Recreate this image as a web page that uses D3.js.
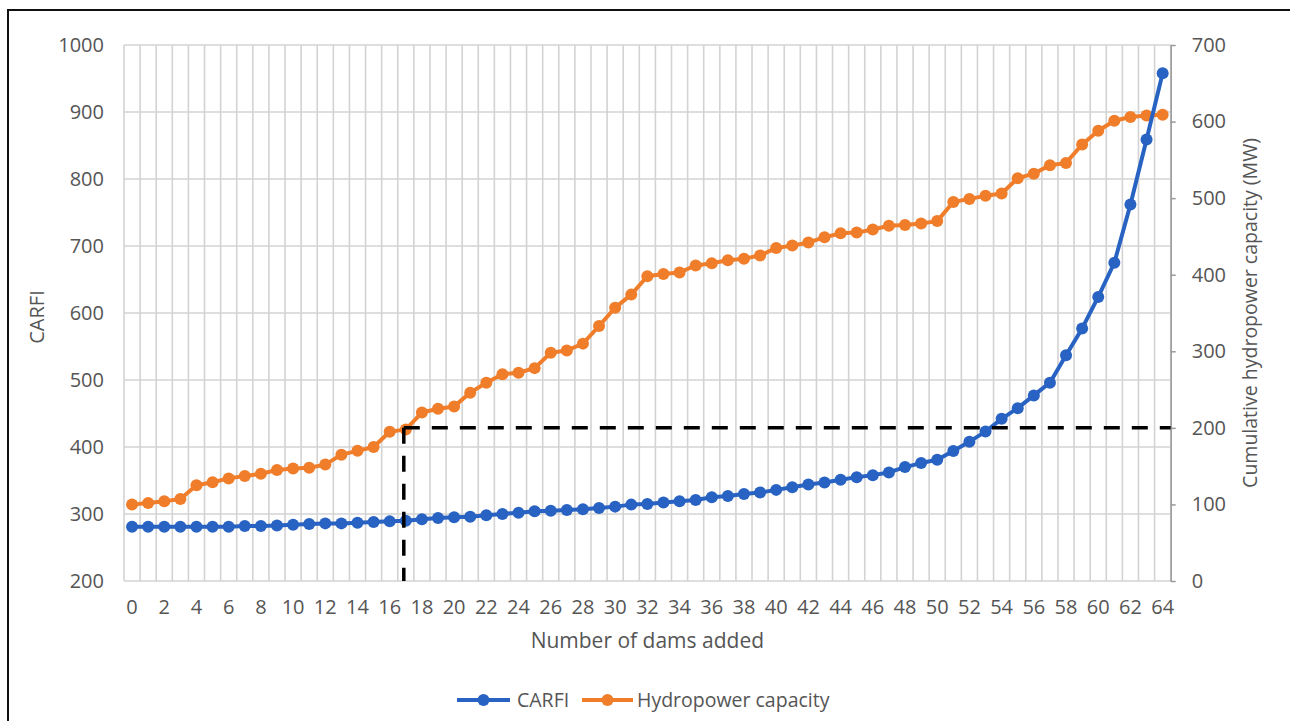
<!DOCTYPE html>
<html><head><meta charset="utf-8">
<script src="https://cdn.jsdelivr.net/npm/d3@7"></script>
<style>
body{margin:0;background:#fff}
svg{display:block;font-family:"Open Sans",sans-serif}
</style>
</head><body>
<svg id="chart" width="1290" height="721"></svg>
<script>
// ---- data ----
const dams = [0,1,2,3,4,5,6,7,8,9,10,11,12,13,14,15,16,17,18,19,20,21,22,23,24,25,26,27,28,29,30,31,32,
  33,34,35,36,37,38,39,40,41,42,43,44,45,46,47,48,49,50,51,52,53,54,55,56,57,58,59,60,61,62,63,64];
const carfi = [281,281,281,281,281,281,281,282,282,283,284,285,286,286,287,288,289,290,292,294,295,296,298,300,
  302,304,305,306,307,309,311,314,315,317,319,321,325,327,330,332,336,340,344,347,351,355,358,362,370,376,381,
  394,408,423,442,458,477,496,537,577,624,675,762,859,958];
const hydropower = [100,102,104,107,125,129,134,137,140,145,147,148,152,165,170,175,195,198,220,225,228,246,259,270,
  272,278,298,301,310,333,357,374,398,401,403,412,415,419,421,425,435,438,442,449,454,455,459,464,465,467,470,
  495,499,503,506,526,532,543,546,570,588,601,606,608,609];
const leftTicks = [200,300,400,500,600,700,800,900,1000];
const rightTicks = [0,100,200,300,400,500,600,700];
const xTickLabels = [0,2,4,6,8,10,12,14,16,18,20,22,24,26,28,30,32,34,36,38,40,42,44,46,48,50,52,54,56,58,60,62,64];
const thresholdDams = 17;
const thresholdMW = 200;
const seriesNames = ["CARFI", "Hydropower capacity"];

// ---- layout ----
const L = 124, R = 1170.7, T = 45, B = 581;
const blue = "#2862c2", orange = "#f07d2a", textCol = "#555555", gridCol = "#d3d3d3";
const tickFont = 20;

const svg = d3.select("#chart");
svg.append("rect").attr("width",1290).attr("height",721).attr("fill","#fff");

// frame
svg.append("path").attr("d","M8,730 L8,10 L1300,10").attr("fill","none").attr("stroke","#111").attr("stroke-width",2);

const x = d3.scaleBand().domain(dams).range([L, R]).padding(0);
const bw = x.bandwidth();
const cx = d => x(d) + bw/2;
const yL = d3.scaleLinear().domain([200,1000]).range([B,T]);
const yR = d3.scaleLinear().domain([0,700]).range([B,T]);

// vertical gridlines (category boundaries)
const bounds = dams.map(d => x(d)).concat([x(dams[dams.length-1]) + bw]);
svg.append("g").selectAll("line").data(bounds).join("line")
  .attr("x1",d=>d).attr("x2",d=>d).attr("y1",T).attr("y2",B)
  .attr("stroke",gridCol).attr("stroke-width",1.6);
// horizontal gridlines
svg.append("g").selectAll("line").data(leftTicks).join("line")
  .attr("x1",L).attr("x2",R).attr("y1",d=>yL(d)).attr("y2",d=>yL(d))
  .attr("stroke",gridCol).attr("stroke-width",1.6);

// left axis
const gl = svg.append("g").attr("transform",`translate(${L},0)`)
  .call(d3.axisLeft(yL).tickValues(leftTicks).tickFormat(d3.format("d")).tickSize(0).tickPadding(20));
gl.select(".domain").remove();
gl.selectAll("text").attr("font-size",tickFont).attr("fill",textCol).attr("font-family","Open Sans");

// right axis
const gr = svg.append("g").attr("transform",`translate(${R},0)`)
  .call(d3.axisRight(yR).tickValues(rightTicks).tickFormat(d3.format("d")).tickSize(5).tickSizeOuter(0).tickPadding(16));
gr.select(".domain").attr("stroke","#9a9a9a").attr("stroke-width",1.5);
gr.selectAll(".tick line").attr("stroke","#9a9a9a").attr("stroke-width",1.5);
gr.selectAll("text").attr("font-size",tickFont).attr("fill",textCol).attr("font-family","Open Sans");

// bottom axis labels
const gb = svg.append("g").attr("transform",`translate(0,${B})`)
  .call(d3.axisBottom(x).tickValues(xTickLabels).tickSize(0).tickPadding(19));
gb.select(".domain").remove();
gb.selectAll("text").attr("font-size",tickFont).attr("fill",textCol).attr("font-family","Open Sans");

// axis titles
svg.append("text").attr("x",(L+R)/2).attr("y",648).attr("text-anchor","middle")
  .attr("font-size",21).attr("fill",textCol).text("Number of dams added");
svg.append("text").attr("transform",`translate(44,${(T+B)/2 + 4}) rotate(-90)`).attr("text-anchor","middle")
  .attr("font-size",20).attr("fill",textCol).text("CARFI");
svg.append("text").attr("transform",`translate(1257,${(T+B)/2}) rotate(-90)`).attr("text-anchor","middle")
  .attr("font-size",19.5).attr("fill",textCol).text("Cumulative hydropower capacity (MW)");

// series
function drawSeries(values, yScale, color){
  const pts = dams.map((d,i)=>[cx(d), yScale(values[i])]);
  svg.append("path").attr("d", d3.line()(pts)).attr("fill","none").attr("stroke",color)
    .attr("stroke-width",4).attr("stroke-linejoin","round");
  svg.append("g").selectAll("circle").data(pts).join("circle")
    .attr("cx",p=>p[0]).attr("cy",p=>p[1]).attr("r",6).attr("fill",color);
}
drawSeries(hydropower, yR, orange);
drawSeries(carfi, yL, blue);

// dashed threshold lines
const dash = "16,12";
svg.append("line").attr("x1",cx(thresholdDams)-2).attr("x2",R).attr("y1",yR(thresholdMW)).attr("y2",yR(thresholdMW))
  .attr("stroke","#000").attr("stroke-width",3.5).attr("stroke-dasharray",dash);
svg.append("line").attr("x1",cx(thresholdDams)-2).attr("x2",cx(thresholdDams)-2).attr("y1",yR(thresholdMW)).attr("y2",B)
  .attr("stroke","#000").attr("stroke-width",3.5).attr("stroke-dasharray",dash);

// legend
const legend = [
  {name: seriesNames[0], color: blue, x0: 457, x1: 510, tx: 517},
  {name: seriesNames[1], color: orange, x0: 582, x1: 633, tx: 637}
];
const ly = 700;
const lg = svg.append("g");
legend.forEach(it=>{
  lg.append("line").attr("x1",it.x0).attr("x2",it.x1).attr("y1",ly).attr("y2",ly)
    .attr("stroke",it.color).attr("stroke-width",4);
  lg.append("circle").attr("cx",(it.x0+it.x1)/2).attr("cy",ly).attr("r",6).attr("fill",it.color);
  lg.append("text").attr("x",it.tx).attr("y",ly).attr("dy","0.35em").attr("font-size",19.5)
    .attr("fill",textCol).text(it.name);
});
</script>
</body></html>
